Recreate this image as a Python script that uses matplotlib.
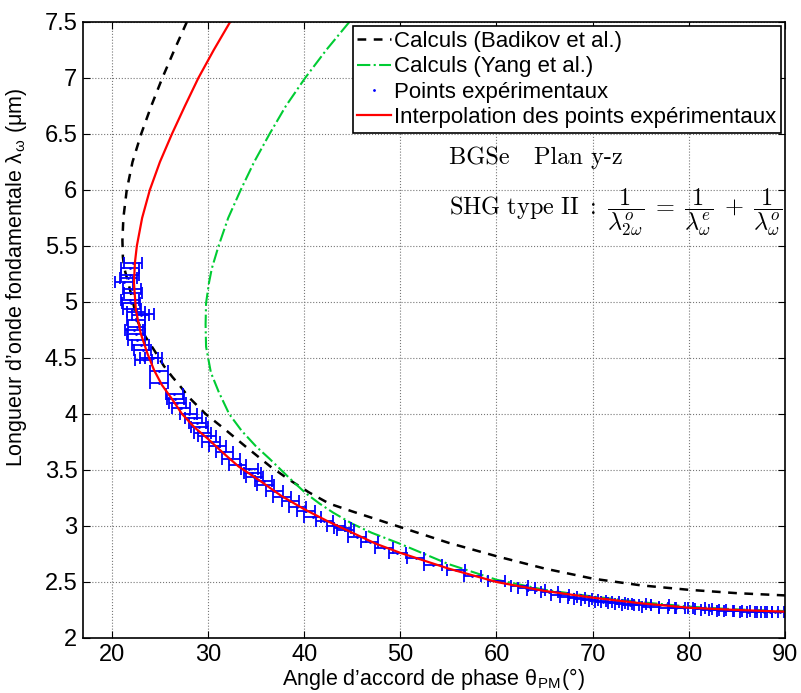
import matplotlib
matplotlib.use("Agg")
import matplotlib.pyplot as plt

# Calculs (Badikov et al.) : angle (deg) / longueur d'onde (um)
badikov_theta = [27.8, 26.5, 25.25, 24.1, 23.05, 22.15, 21.55, 21.2, 21.1, 21.15, 21.3, 21.8, 22.2,
                 22.6, 23.5, 24.4, 25.4, 26.3, 27.0, 28.0, 29.75, 31.8, 33.9, 36.5, 38.5, 40.5,
                 42.6, 45.0, 47.5, 50.0, 55.0, 60.0, 65.0, 70.0, 75.0, 80.0, 85.0, 90.0]
badikov_lam = [7.5, 7.25, 7.0, 6.75, 6.5, 6.25, 6.0, 5.75, 5.55, 5.4, 5.3, 5.14, 5.0,
               4.84, 4.69, 4.57, 4.43, 4.33, 4.26, 4.15, 4.0, 3.86, 3.71, 3.53, 3.41, 3.30,
               3.20, 3.13, 3.06, 2.99, 2.85, 2.73, 2.62, 2.53, 2.47, 2.43, 2.40, 2.38]

# Calculs (Yang et al.)
yang_theta = [44.7, 42.3, 40.1, 38.1, 36.4, 34.8, 33.4, 32.1, 31.1, 30.4, 30.1, 29.8, 29.75,
              29.8, 30.3, 31.1, 32.2, 33.5, 35.0, 36.4, 37.6, 38.8, 40.2, 41.6, 43.0, 45.0,
              47.0, 50.0, 55.0, 60.0, 65.0, 70.0, 75.0, 80.0, 85.0, 90.0]
yang_lam = [7.5, 7.25, 7.0, 6.75, 6.5, 6.25, 6.0, 5.75, 5.5, 5.3, 5.17, 4.99, 4.8,
            4.6, 4.37, 4.2, 4.0, 3.85, 3.71, 3.6, 3.5, 3.4, 3.29, 3.2, 3.12, 3.02,
            2.94, 2.84, 2.66, 2.52, 2.43, 2.37, 2.32, 2.28, 2.255, 2.24]

# Interpolation des points experimentaux
interp_theta = [32.3, 30.6, 29.0, 27.6, 26.25, 25.0, 23.95, 23.15, 22.6, 22.4, 22.3, 22.5,
                23.0, 23.7, 24.4, 25.2, 26.2, 27.3, 28.6, 30.1, 31.6, 33.2, 35.3, 37.6, 40.0,
                42.5, 45.0, 47.5, 50.0, 55.0, 60.0, 65.0, 70.0, 75.0, 80.0, 85.0, 90.0]
interp_lam = [7.5, 7.25, 7.0, 6.75, 6.5, 6.25, 6.0, 5.75, 5.5, 5.35, 5.17, 4.93,
              4.72, 4.54, 4.39, 4.26, 4.14, 4.0, 3.88, 3.77, 3.65, 3.53, 3.41, 3.27, 3.15,
              3.04, 2.94, 2.84, 2.76, 2.62, 2.50, 2.42, 2.36, 2.31, 2.27, 2.25, 2.235]

# Points experimentaux
pts_theta = [22.2, 21.9, 21.9, 21.7, 21.25, 22.1, 22.2, 21.9, 22.0, 22.1, 22.5, 23.0, 23.5,
             22.5, 22.6, 22.3, 22.5, 22.6, 23.0, 23.2, 23.85, 24.3, 23.3,
             24.9, 24.9, 26.5, 26.6, 26.8, 27.2, 28.0, 28.5, 28.9, 29.1, 29.4, 29.9, 30.3,
             31.0, 31.7, 32.4, 33.1, 34.3, 34.6, 34.8,
             35.8, 36.0, 36.9, 37.7, 38.6, 39.3, 40.2, 40.9, 42.1, 43.3, 44.0, 44.3, 45.5,
             46.8, 48.3, 49.7,
             51.6, 53.4, 55.8, 57.5, 60.0, 62.4, 63.1, 64.1, 65.5, 66.6, 67.5, 68.3, 69.0,
             69.7, 70.5, 71.1, 71.8, 72.5, 73.2, 73.9, 74.6, 75.2, 76.0, 77.0, 77.8, 78.7,
             79.5, 80.8, 81.5, 82.2, 83.0, 83.8, 84.6, 85.5, 86.2, 87.0, 87.8, 88.4, 89.0, 89.5]
pts_lam = [5.35, 5.30, 5.24, 5.21, 5.18, 5.12, 5.08, 5.02, 4.99, 4.94, 4.91, 4.88, 4.89,
           4.84, 4.78, 4.75, 4.71, 4.66, 4.62, 4.57, 4.50, 4.50, 4.48,
           4.38, 4.28, 4.18, 4.13, 4.10, 4.05, 4.00, 3.96, 3.92, 3.88, 3.83, 3.80, 3.75,
           3.71, 3.66, 3.60, 3.54, 3.51, 3.47, 3.44,
           3.40, 3.37, 3.31, 3.26, 3.22, 3.17, 3.13, 3.08, 3.04, 3.00, 2.98, 2.96, 2.90,
           2.86, 2.80, 2.76,
           2.71, 2.65, 2.61, 2.55, 2.51, 2.46, 2.45, 2.43, 2.41, 2.38, 2.37, 2.36, 2.35,
           2.34, 2.33, 2.32, 2.32, 2.31, 2.30, 2.29, 2.30, 2.29, 2.28, 2.29, 2.27, 2.27,
           2.27, 2.27, 2.26, 2.25, 2.25, 2.245, 2.24, 2.24, 2.235, 2.235, 2.23, 2.23, 2.23, 2.23]
theta_err = 0.9  # demi-largeur des barres d'erreur (deg)

plt.rcParams['font.family'] = ['Liberation Sans', 'DejaVu Sans']
plt.rcParams['mathtext.fontset'] = 'cm'

fig = plt.figure(figsize=(8.01, 6.93), dpi=100)
ax = fig.add_axes([0.1036, 0.0794, 0.8764, 0.8889])

ax.plot(badikov_theta, badikov_lam, '--', color='black', lw=1.8, dashes=(3.5, 3),
        label='Calculs (Badikov et al.)')
ax.plot(yang_theta, yang_lam, '-.', color='#00cc33', lw=1.5,
        label='Calculs (Yang et al.)')
ax.errorbar(pts_theta, pts_lam, xerr=theta_err, fmt='none', ecolor='blue',
            elinewidth=1.3, capsize=4, capthick=1.3)
ax.plot(pts_theta, pts_lam, '.', color='blue', ms=2, label='Points expérimentaux')
ax.plot(interp_theta, interp_lam, '-', color='red', lw=1.6,
        label='Interpolation des points expérimentaux')

ax.set_xlim(17, 90)
ax.set_ylim(2, 7.5)
ax.set_xticks(range(20, 91, 10))
ax.set_yticks([2, 2.5, 3, 3.5, 4, 4.5, 5, 5.5, 6, 6.5, 7, 7.5])
ax.set_yticklabels(['2', '2.5', '3', '3.5', '4', '4.5', '5', '5.5', '6', '6.5', '7', '7.5'])
ax.tick_params(direction='in', top=True, right=True, length=5, labelsize=17, pad=4)
ax.grid(True, linestyle=':', color='#777777', lw=0.8)
ax.set_axisbelow(True)
for s in ax.spines.values():
    s.set_linewidth(1.2)

ax.set_xlabel('Angle d’accord de phase θ$_{\\mathregular{PM}}$(°)', fontsize=15.5, labelpad=0)
ax.set_ylabel('Longueur d’onde fondamentale λ$_{\\mathregular{ω}}$ (μm)', fontsize=15.5)
ax.yaxis.set_label_coords(-0.077, 0.585)

ax.text(55.1, 6.29, 'BGSe   Plan y-z', family='cmr10', fontsize=17.5, va='center')
ax.text(55.1, 5.80,
        r'$\mathrm{SHG\ type\ II}\ :\ \dfrac{1}{\lambda^{o}_{2\omega}}\;=\;\dfrac{1}{\lambda^{e}_{\omega}}\;+\;\dfrac{1}{\lambda^{o}_{\omega}}$',
        fontsize=17.5, va='center')

leg = ax.legend(loc='upper right', fontsize=16, handlelength=1.5, handletextpad=0.15,
                borderaxespad=0.2, borderpad=0.2, labelspacing=0.2, fancybox=False,
                framealpha=1)
leg.get_frame().set_edgecolor('black')
leg.get_frame().set_linewidth(1.2)

fig.savefig('out.png', dpi=100)
